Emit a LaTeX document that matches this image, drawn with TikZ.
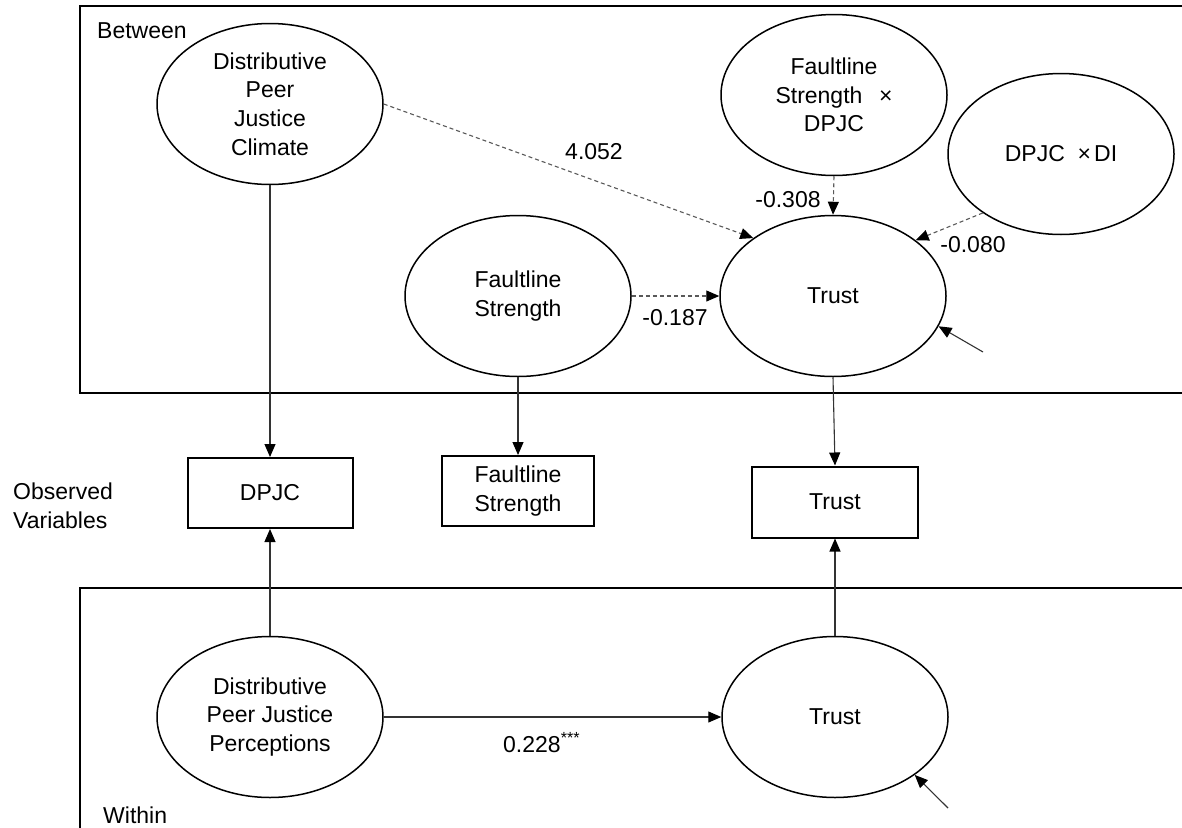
\documentclass[tikz,border=0pt]{standalone}
\usepackage{fontspec}
\setmainfont{Liberation Sans}
\usetikzlibrary{arrows.meta,shapes.geometric}
\begin{document}
\begin{tikzpicture}[x=1pt,y=-1pt,
  txt/.style={font=\fontsize{23}{28.7}\selectfont},
  lat/.style={txt, draw, line width=1.5pt, ellipse, minimum width=226pt, minimum height=161pt, inner sep=0pt, align=center},
  obs/.style={txt, draw, line width=2pt, rectangle, inner sep=0pt, align=center},
  conn/.style={line width=1.1pt, draw=black!80, -{Triangle[length=13pt,width=11pt,color=black]}},
  dconn/.style={conn, draw=black!65, dash pattern=on 4pt off 3pt},
  frame/.style={line width=2.2pt},
  lbl/.style={txt, inner sep=0pt}]
\clip (0,0) rectangle (1182,827);
\fill[white] (0,0) rectangle (1182,827);
% frames
\draw[frame] (1200,6) -- (80,6) -- (80,393) -- (1200,393);
\draw[frame] (1200,588) -- (80,588) -- (80,840);
\node[lbl, anchor=west] (between) at (97,31) {Between};
\node[lbl, anchor=west] (within) at (103,815) {Within};
\node[lbl, anchor=west, align=left] (obslab) at (13,506) {Observed\\Variables};
% between latent
\node[lat] (clim) at (270,104) {Distributive\\Peer\\Justice\\Climate};
\node[lat] (fsd) at (834,95) {Faultline\\Strength\ \ \,×\\DPJC};
\node[lat] (dpdi) at (1061,154) {DPJC \ ×\hspace{3pt}DI};
\node[lat] (tB) at (833,296) {Trust};
\node[lat] (fs) at (518,296) {Faultline\\Strength};
% observed
\node[obs, minimum width=165pt, minimum height=70pt] (dpjcR) at (270,493) {DPJC};
\node[obs, minimum width=152pt, minimum height=70pt] (fsR) at (518,491) {Faultline\\Strength};
\node[obs, minimum width=166pt, minimum height=71pt] (trR) at (835,502) {Trust};
% within latent
\node[lat] (perc) at (270,717) {Distributive\\Peer Justice\\Perceptions};
\node[lat] (tW) at (835,717) {Trust};
% residual sources
\coordinate (eB) at (983,352);
\coordinate (eW) at (948,808);
% structural paths
\draw[dconn] (clim.east) -- (tB.144);
\draw[dconn] (fsd.south) -- (tB.north);
\draw[dconn] (dpdi.217) -- (tB.34);
\draw[dconn] (fs.east) -- (tB.west);
\draw[conn] (eB) -- (tB.-16);
\draw[conn] (perc.east) -- (tW.west);
\draw[conn] (eW) -- (tW.-36);
% measurement paths
\draw[conn] (clim.south) -- (dpjcR.north);
\draw[conn] (fs.south) -- (fsR.north);
\draw[conn] (tB.south) -- (trR.north);
\draw[conn] (perc.north) -- (dpjcR.south);
\draw[conn] (tW.north) -- (trR.south);
% labels
\node[lbl] (l1) at (594,152) {4.052};
\node[lbl] (l2) at (788,200) {-0.308};
\node[lbl] (l3) at (973,245) {-0.080};
\node[lbl] (l4) at (675,318) {-0.187};
\node[lbl, anchor=west] (l5) at (503,743) {0.228\textsuperscript{***}};
\end{tikzpicture}
\end{document}
